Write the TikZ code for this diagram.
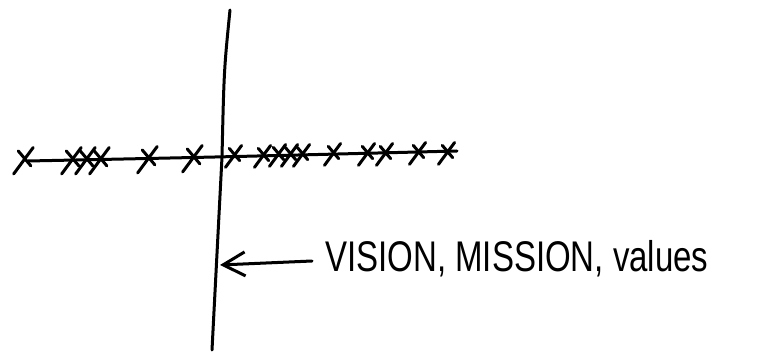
\documentclass[tikz,border=0pt]{standalone}
\usepackage{fontspec}
\setmainfont{Liberation Sans}
\usetikzlibrary{arrows.meta}
\begin{document}
\begin{tikzpicture}[x=1pt,y=-1pt,
  ink/.style={line width=3pt, line cap=round, line join=round, black},
  xmark/.pic={\draw[ink] (-9,13) -- (8,-10); \draw[ink] (-5,-7) -- (6,6);},
  handtext/.style={font=\fontsize{33}{33}\selectfont, inner sep=0pt}]
\useasboundingbox (0,0) rectangle (779,358);
% axes
\draw[ink] (230,10) .. controls (224,70) .. (222,157) -- (212,350);
\draw[ink] (28,161) .. controls (220,157) .. (457,151);
% crosses left of the axis
\foreach \px/\py in {24/159, 72/159, 86/159, 100/159, 148/158, 193/157}
  \pic[scale=1.15] at (\px,\py) {xmark};
% crosses right of the axis
\foreach \px/\py in {234/155, 263/155, 278/154, 290/154, 302/154, 333/153, 367/153, 385/153, 418/152, 447/152}
  \pic[scale=0.95] at (\px,\py) {xmark};
% label and arrow
\node[handtext, anchor=base west] (lbl) at (325,271) {\scalebox{1}[1.3]{VISION, MISSION, values}};
\coordinate (tail) at (312,261);
\coordinate (tip) at (220,265);
\draw[ink, -{Straight Barb[length=22pt,width=24pt]}] (tail) -- (tip);
\end{tikzpicture}
\end{document}
